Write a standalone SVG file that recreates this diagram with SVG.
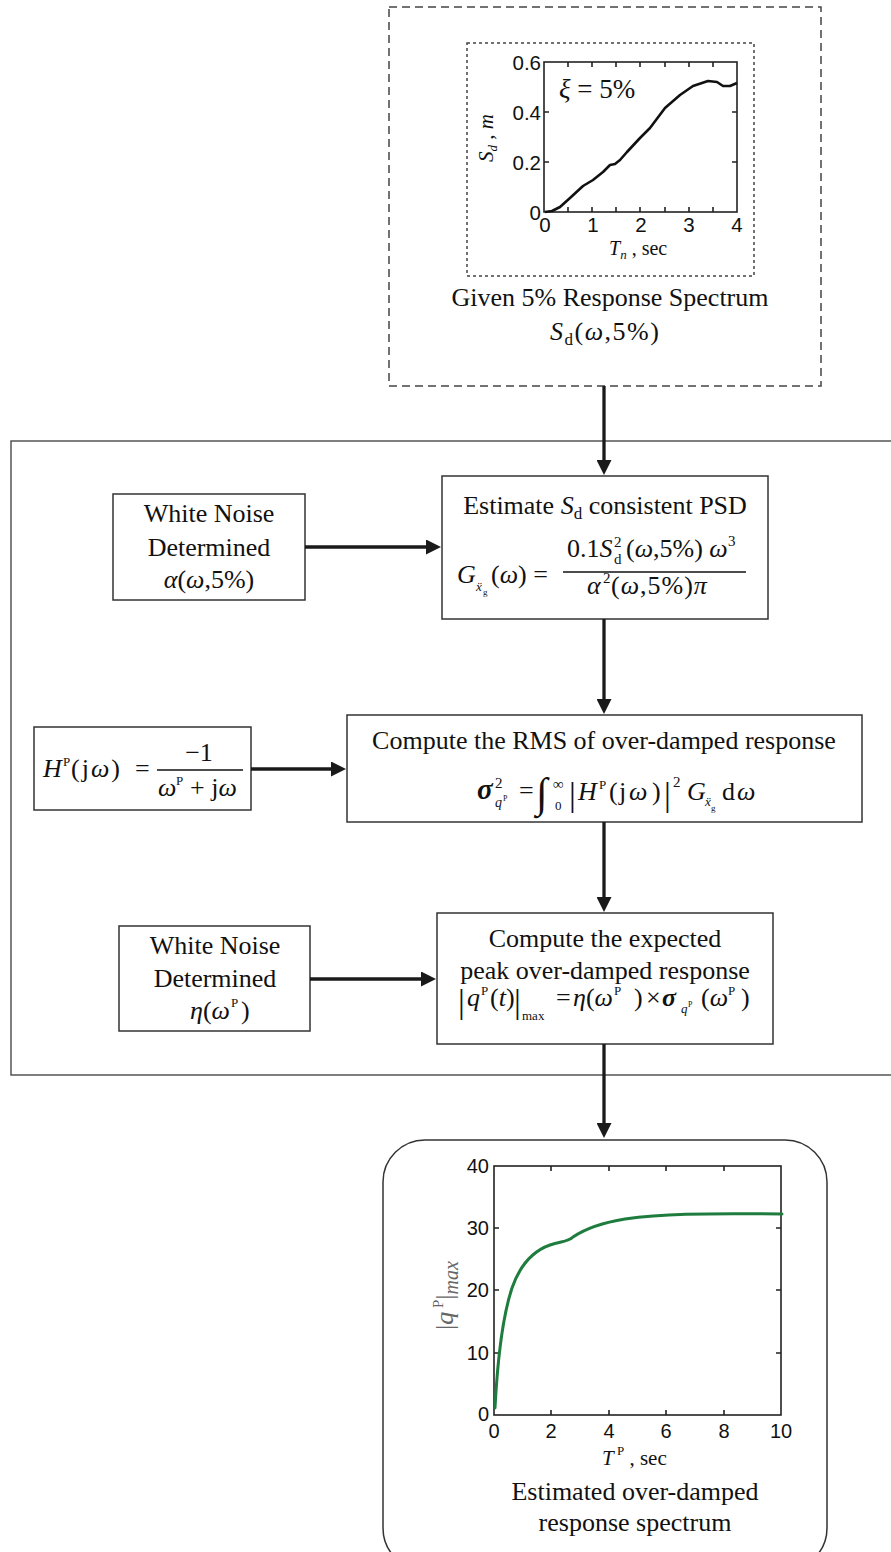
<svg xmlns="http://www.w3.org/2000/svg" width="891" height="1552" viewBox="0 0 891 1552">
<style>
.s{font-family:"Liberation Serif","Times New Roman",serif;fill:#111}
.t{font-size:26px}
.i{font-style:italic}
.n{font-family:"Liberation Sans",Arial,sans-serif;fill:#111}
.box{fill:#fff;stroke:#333;stroke-width:1.5}
.ax{fill:none;stroke:#222;stroke-width:1.6}
.conn{stroke:#1a1a1a;stroke-width:3.3;fill:none;marker-end:url(#ah)}
</style>
<defs>
<marker id="ah" viewBox="0 0 10 10" refX="0" refY="5" markerWidth="15" markerHeight="15" markerUnits="userSpaceOnUse" orient="auto">
<path d="M0,0 L10,5 L0,10 z" fill="#1a1a1a"/>
</marker>
</defs>
<rect width="891" height="1552" fill="#fff"/>

<!-- big solid frame -->
<g id="frame">
<rect x="11" y="441" width="890" height="634" fill="none" stroke="#555" stroke-width="1.5"/>
</g>

<!-- given spectrum -->
<g id="given">
<rect x="389" y="7" width="432" height="379" fill="#fff" stroke="#444" stroke-width="1.5" stroke-dasharray="8,5"/>
<rect x="467" y="43" width="287" height="233" fill="none" stroke="#444" stroke-width="1.5" stroke-dasharray="3,3"/>
<rect x="544" y="62" width="193" height="150" class="ax"/>
<path class="ax" stroke-width="1" d="M568,212v-5M592,212v-5M616,212v-5M640,212v-5M665,212v-5M689,212v-5M713,212v-5M568,62v5M592,62v5M616,62v5M640,62v5M665,62v5M689,62v5M713,62v5M544,162h5M544,112h5M737,162h-5M737,112h-5"/>
<polyline fill="none" stroke="#111" stroke-width="2.6" stroke-linejoin="round" points="545,212 552,211 560,207 570,198 583,186 593,180 603,172 610,165 615,164 620,160 627,152 640,138 650,128 665,108 680,95 693,86 708,81 717,82 723,86 730,86 737,83"/>
<g class="n" font-size="20.5" text-anchor="end">
<text x="541" y="70">0.6</text><text x="541" y="120">0.4</text><text x="541" y="170">0.2</text><text x="541" y="220">0</text>
</g>
<g class="n" font-size="20.5" text-anchor="middle">
<text x="545" y="232">0</text><text x="593" y="232">1</text><text x="641" y="232">2</text><text x="689" y="232">3</text><text x="737" y="232">4</text>
</g>
<text class="s" x="559" y="98" font-size="27"><tspan class="i">ξ</tspan> = 5%</text>
<text class="s" transform="translate(493,162) rotate(-90)" font-size="21"><tspan class="i">S</tspan><tspan class="i" font-size="13" dy="4">d</tspan><tspan dy="-4"> , </tspan><tspan class="i">m</tspan></text>
<text class="s" x="609" y="255" font-size="20"><tspan class="i">T</tspan><tspan class="i" font-size="13" dy="4">n</tspan><tspan dy="-4"> , sec</tspan></text>
<text class="s t" x="610" y="306" text-anchor="middle" font-size="26.5">Given 5% Response Spectrum</text>
<text class="s t" x="550" y="340" letter-spacing="1.5"><tspan class="i">S</tspan><tspan font-size="17" dy="5">d</tspan><tspan dy="-5">(</tspan><tspan class="i">ω</tspan>,5%)</text>
</g>

<!-- white noise alpha -->
<g id="wn_alpha">
<rect x="113" y="494" width="192" height="106" class="box"/>
<text class="s t" x="209" y="522" text-anchor="middle">White Noise</text>
<text class="s t" x="209" y="556" text-anchor="middle">Determined</text>
<text class="s t" x="209" y="588" text-anchor="middle"><tspan class="i">α</tspan>(<tspan class="i">ω</tspan>,5%)</text>
</g>

<!-- estimate PSD -->
<g id="estimate">
<rect x="442" y="476" width="326" height="143" class="box"/>
<text class="s t" x="605" y="514" text-anchor="middle">Estimate <tspan class="i">S</tspan><tspan font-size="17" dy="5">d</tspan><tspan dy="-5"> consistent PSD</tspan></text>
<text class="s t i" x="457" y="583">G</text>
<text class="s i" x="476" y="591" font-size="13">ẍ</text>
<text class="s" x="483" y="595" font-size="9">g</text>
<text class="s t" x="491" y="583">(<tspan class="i">ω</tspan>) =</text>
<text class="s t" x="567" y="557">0.1<tspan class="i">S</tspan></text>
<text class="s" x="614" y="547" font-size="15">2</text>
<text class="s" x="614" y="564" font-size="15">d</text>
<text class="s t" x="626" y="557">(<tspan class="i">ω</tspan>,5%)<tspan class="i"> ω</tspan></text>
<text class="s" x="728" y="546" font-size="15">3</text>
<line x1="563" y1="572" x2="746" y2="572" stroke="#111" stroke-width="1.3"/>
<text class="s t i" x="587" y="594">α</text>
<text class="s" x="603" y="583" font-size="15">2</text>
<text class="s t" x="611" y="594" letter-spacing="1">(<tspan class="i">ω</tspan>,5%)<tspan class="i">π</tspan></text>
</g>

<!-- H^P -->
<g id="hp">
<rect x="34" y="727" width="217" height="83" class="box"/>
<text class="s t i" x="43" y="777">H</text>
<text class="s" x="63" y="766" font-size="13">P</text>
<text class="s t" x="71" y="777" letter-spacing="2">(j<tspan class="i">ω</tspan>)</text>
<text class="s t" x="135" y="777">=</text>
<line x1="157" y1="770" x2="243" y2="770" stroke="#111" stroke-width="1.3"/>
<text class="s t" x="199" y="761" text-anchor="middle">−1</text>
<text class="s t i" x="158" y="796">ω</text>
<text class="s" x="176" y="785" font-size="13">P</text>
<text class="s t" x="190" y="796">+ j<tspan class="i">ω</tspan></text>
</g>

<!-- RMS -->
<g id="rms">
<rect x="347" y="715" width="515" height="107" class="box"/>
<text class="s t" x="604" y="749" text-anchor="middle" font-size="26.5">Compute the RMS of over-damped response</text>
<text class="s i" x="477" y="799" font-size="29" font-weight="bold">σ</text>
<text class="s" x="495" y="788" font-size="15">2</text>
<text class="s i" x="495" y="807" font-size="14">q</text>
<text class="s" x="503" y="801" font-size="8">P</text>
<text class="s t" x="519" y="799">=</text>
<text class="s" x="536" y="807" font-size="42">∫</text>
<text class="s" x="553" y="789" font-size="15">∞</text>
<text class="s" x="555" y="810" font-size="13">0</text>
<text class="s" x="569" y="806" font-size="34">|</text>
<text class="s t i" x="578" y="800">H</text>
<text class="s" x="599" y="789" font-size="13">P</text>
<text class="s t" x="609" y="800">(</text>
<text class="s t" x="619" y="800">j</text>
<text class="s t i" x="629" y="800">ω</text>
<text class="s t" x="652" y="800">)</text>
<text class="s" x="664" y="806" font-size="34">|</text>
<text class="s" x="673" y="787" font-size="15">2</text>
<text class="s t i" x="687" y="800">G</text>
<text class="s i" x="705" y="806" font-size="13">ẍ</text>
<text class="s" x="711" y="811" font-size="9">g</text>
<text class="s t" x="722" y="800">d</text>
<text class="s t i" x="737" y="800">ω</text>
</g>

<!-- white noise eta -->
<g id="wn_eta">
<rect x="119" y="926" width="191" height="105" class="box"/>
<text class="s t" x="215" y="954" text-anchor="middle">White Noise</text>
<text class="s t" x="215" y="987" text-anchor="middle">Determined</text>
<text class="s t" x="190" y="1019"><tspan class="i">η</tspan>(<tspan class="i">ω</tspan></text>
<text class="s" x="231" y="1007" font-size="13">P</text>
<text class="s t" x="241" y="1019">)</text>
</g>

<!-- expected peak -->
<g id="peak">
<rect x="437" y="913" width="336" height="131" class="box"/>
<text class="s t" x="605" y="947" text-anchor="middle">Compute the expected</text>
<text class="s t" x="605" y="979" text-anchor="middle">peak over-damped response</text>
<text class="s" x="458" y="1013" font-size="34">|</text>
<text class="s t i" x="467" y="1006">q</text>
<text class="s" x="481" y="995" font-size="13">P</text>
<text class="s t" x="490" y="1006">(<tspan class="i">t</tspan>)</text>
<text class="s" x="514" y="1013" font-size="34">|</text>
<text class="s" x="522" y="1020" font-size="13">max</text>
<text class="s t" x="556" y="1006">=</text>
<text class="s t" x="573" y="1006"><tspan class="i">η</tspan>(<tspan class="i">ω</tspan></text>
<text class="s" x="614" y="995" font-size="13">P</text>
<text class="s t" x="634" y="1006">)</text>
<text class="s t" x="646" y="1006">×</text>
<text class="s i" x="662" y="1006" font-size="26" font-weight="bold">σ</text>
<text class="s i" x="681" y="1013" font-size="13">q</text>
<text class="s" x="688" y="1007" font-size="8">P</text>
<text class="s t" x="701" y="1006">(<tspan class="i">ω</tspan></text>
<text class="s" x="728" y="995" font-size="13">P</text>
<text class="s t" x="741" y="1006">)</text>
</g>

<!-- result spectrum -->
<g id="result">
<rect x="383" y="1140" width="444" height="430" rx="42" ry="42" fill="#fff" stroke="#333" stroke-width="1.5"/>
<rect x="494" y="1166" width="287" height="249" class="ax"/>
<path class="ax" stroke-width="1" d="M551,1415v-5M609,1415v-5M666,1415v-5M724,1415v-5M551,1166v5M609,1166v5M666,1166v5M724,1166v5M494,1353h5M494,1290h5M494,1228h5M781,1353h-5M781,1290h-5M781,1228h-5"/>
<path fill="none" stroke="#1e7d3e" stroke-width="3" stroke-linecap="round" d="M495,1408 C497,1370 502,1318 512,1288 C520,1265 533,1251 550,1245 C562,1241 568,1242 573,1237 C585,1229 600,1223 625,1219 C660,1214 700,1213 782,1214"/>
<g class="n" font-size="20" text-anchor="end">
<text x="489" y="1173">40</text><text x="489" y="1235">30</text><text x="489" y="1297">20</text><text x="489" y="1360">10</text><text x="489" y="1421">0</text>
</g>
<g class="n" font-size="20" text-anchor="middle">
<text x="494" y="1438">0</text><text x="551" y="1438">2</text><text x="609" y="1438">4</text><text x="666" y="1438">6</text><text x="724" y="1438">8</text><text x="781" y="1438">10</text>
</g>
<text class="s" transform="translate(453,1330) rotate(-90)" font-size="26" style="fill:#666">|<tspan class="i">q</tspan><tspan font-size="15" dy="-10"> P</tspan><tspan dy="10">|</tspan><tspan class="i" font-size="20" dy="5">max</tspan></text>
<text class="s" x="602" y="1465" font-size="21"><tspan class="i">T</tspan><tspan font-size="13" dy="-10">  P</tspan><tspan dy="10">  , sec</tspan></text>
<text class="s t" x="635" y="1500" text-anchor="middle">Estimated over-damped</text>
<text class="s t" x="635" y="1531" text-anchor="middle">response spectrum</text>
</g>

<g id="connectors">
<line class="conn" x1="604" y1="386" x2="604" y2="460"/>
<line class="conn" x1="305" y1="547" x2="426" y2="547"/>
<line class="conn" x1="604" y1="619" x2="604" y2="699"/>
<line class="conn" x1="251" y1="769" x2="331" y2="769"/>
<line class="conn" x1="604" y1="822" x2="604" y2="897"/>
<line class="conn" x1="310" y1="979" x2="421" y2="979"/>
<line class="conn" x1="604" y1="1044" x2="604" y2="1123"/>
</g>
</svg>
